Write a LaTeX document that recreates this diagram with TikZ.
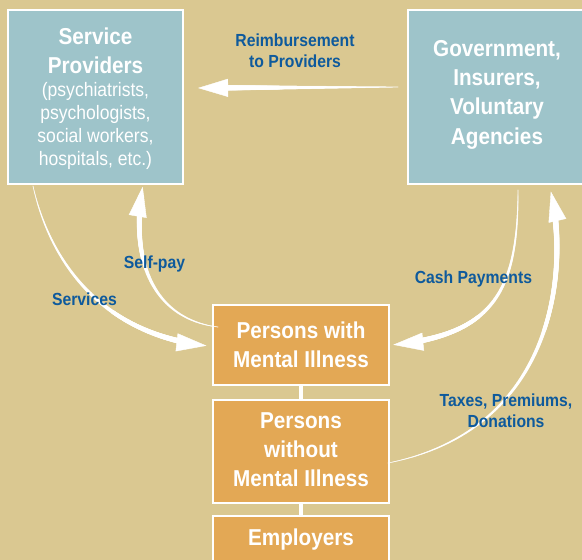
\documentclass[tikz,border=0pt]{standalone}
\usepackage{fontspec}
\setmainfont{Liberation Sans}[FakeStretch=0.9]
\usetikzlibrary{arrows.meta,decorations.markings,calc}
\definecolor{bg}{HTML}{DAC891}
\definecolor{boxblue}{HTML}{9EC4CA}
\definecolor{boxorange}{HTML}{E3A855}
\definecolor{labblue}{HTML}{0E5A9C}
\begin{document}
\begin{tikzpicture}[x=1pt,y=-1pt,
  box/.style={draw=white,line width=1.5pt,inner sep=0pt,outer sep=0pt},
  spbox/.style={box,fill=boxblue},
  obox/.style={box,fill=boxorange},
  title/.style={text=white,font=\fontsize{23}{29.3}\selectfont\bfseries,align=center,inner sep=0pt},
  sub/.style={text=white,font=\fontsize{19.5}{22.7}\selectfont,align=center,inner sep=0pt},
  lab/.style={text=labblue,font=\fontsize{17.5}{21.3}\selectfont\bfseries,align=center,inner sep=0pt},
  flow/.style={
    postaction={decorate,decoration={markings,
      mark=between positions 0 and 0.93 step 0.5pt with {%
        \pgfmathsetmacro\tprad{0.4+2.7*\pgfkeysvalueof{/pgf/decoration/mark info/distance from start}/\pgfdecoratedpathlength}%
        \fill[white] (0,0) circle[radius=\tprad pt];}}},
    postaction={decorate,decoration={markings,
      mark=at position 0.99 with {\arrow[white]{Triangle[length=30pt,width=18pt]}}}}}
]
\fill[bg] (0,0) rectangle (582,560);
\useasboundingbox (0,0) rectangle (582,560);

% boxes
\node[spbox,minimum width=175pt,minimum height=174pt] (sp) at (95.5,97) {};
\node[spbox,minimum width=192pt,minimum height=174pt] (gov) at (504,97) {};
\node[obox,minimum width=176pt,minimum height=80pt] (pwith) at (301,345) {};
\node[obox,minimum width=176pt,minimum height=103pt] (pwo) at (301,451.5) {};
\node[obox,minimum width=176pt,minimum height=88pt] (emp) at (301,560) {};

\draw[white,line width=3.5pt] (pwith.south) -- (pwo.north);
\draw[white,line width=3.5pt] (pwo.south) -- (emp.north);

% arrow end points
\coordinate (rS) at ($(gov.west)+(-10,-10)$);
\coordinate (rE) at ($(sp.east)+(13,-9)$);
\coordinate (svS) at ($(sp.south west)+(25,2)$);
\coordinate (svE) at ($(pwith.west)+(-4,1)$);
\coordinate (spS0) at ($(pwith.north west)+(5,22)$);
\coordinate (spE) at ($(sp.south east)+(-40,1)$);
\coordinate (caS) at ($(gov.south)+(14,6)$);
\coordinate (caE) at ($(pwith.east)+(2,0)$);
\coordinate (txS) at ($(pwo.east)+(-1,11.5)$);
\coordinate (txE) at ($(gov.south)+(46,4)$);

% arrows
\path[flow] (rS) -- (rE);
\path[flow] (svS) .. controls (50,262) and (102,335) .. (svE);
\path[flow] (spS0) .. controls (160,320) and (128,270) .. (spE);
\path[flow] (caS) .. controls (518,290) and (495,335) .. (caE);
\path[flow] (txS) .. controls (555,430) and (570,270) .. (txE);

% box texts
\node[title] (spT) at (95.5,51) {Service\\Providers};
\node[sub] (spS) at (95.5,126) {(psychiatrists,\\psychologists,\\social workers,\\hospitals, etc.)};
\node[title] (govT) at (497,94.5) {Government,\\Insurers,\\Voluntary\\Agencies};
\node[title] (pwT) at (301,345) {Persons with\\Mental Illness};
\node[title] (pwoT) at (301,449.5) {Persons\\without\\Mental Illness};
\node[title,anchor=base] (empT) at (301,545) {Employers};

% labels
\node[lab] (reimL) at (295,51) {Reimbursement\\to Providers};
\node[lab,anchor=base] (selfL) at (154.5,268) {Self-pay};
\node[lab,anchor=base] (servL) at (84.5,305) {Services};
\node[lab,anchor=base] (cashL) at (473.5,283) {Cash Payments};
\node[lab] (taxL) at (506,410.5) {Taxes, Premiums,\\Donations};
\end{tikzpicture}
\end{document}
